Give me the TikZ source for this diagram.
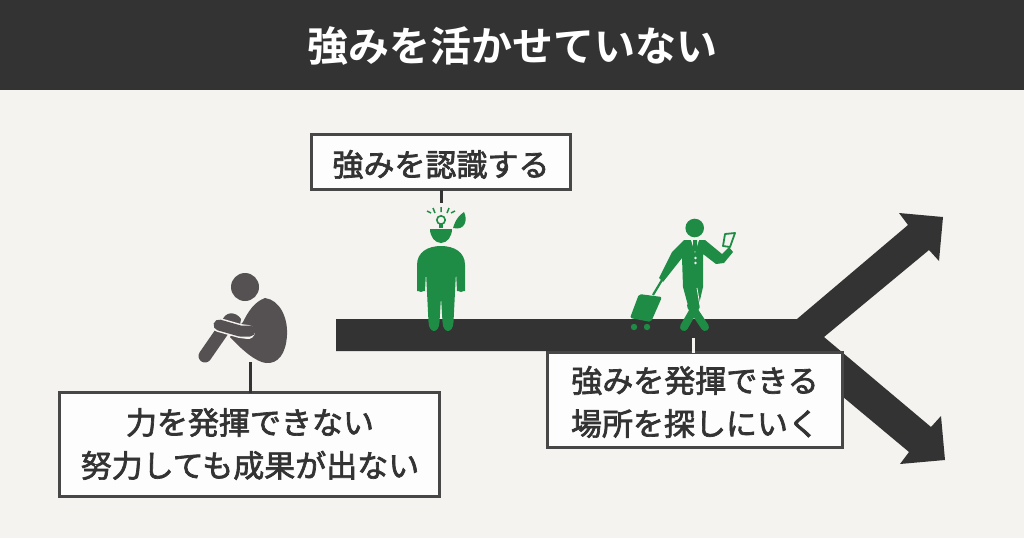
\documentclass[tikz,border=0pt]{standalone}
\usepackage{fontspec}
\setmainfont{Noto Sans CJK JP}[BoldFont={Noto Sans CJK JP Bold}]
\usetikzlibrary{positioning}
\definecolor{inkdark}{HTML}{333333}
\definecolor{paper}{HTML}{F4F3EF}
\definecolor{boxfill}{HTML}{FDFDFD}
\definecolor{figgreen}{HTML}{1F8C45}
\definecolor{figgray}{HTML}{555152}
\tikzset{
	every node/.style={inner sep=0pt, outer sep=0pt},
	textbox/.style={draw=inkdark!90!white, line width=2.5pt, fill=boxfill},
	boxtext/.style={text=inkdark, align=center, font=\fontsize{31}{43}\selectfont\addfontfeatures{FakeBold=2.2}},
	stem/.style={draw=inkdark, line width=3pt},
	limb/.style={line width=#1, line cap=round, line join=round},
}

\begin{document}
\begin{tikzpicture}[x=1pt, y=-1pt]
	\useasboundingbox (0,0) rectangle (1024,538);
	\fill[paper] (0,0) rectangle (1024,538);
	\fill[inkdark] (0,0) rectangle (1024,90);
	\node[text=white, font=\fontsize{41}{44}\selectfont\bfseries] (title) at (512,46) {強みを活かせていない};

	% road with the two arrows
	\fill[inkdark] (336,319) -- (797,319) -- (908,225) -- (899,213) -- (943,217) -- (939,261) -- (929,250) -- (824,337)
		-- (931,427) -- (941,416) -- (945,460) -- (900,464) -- (909,452) -- (788,351) -- (336,351) -- cycle;

	% person with the open head
	\begin{scope}[figgreen]
		\fill (430,229) -- (452,229) arc (0:180:11 and 14) -- cycle;
		\fill (453,228) .. controls (456,218) and (460,215) .. (464,212) .. controls (468,220) and (465,231) .. cycle;
		\draw[line width=1.6pt] (441,220) circle (4.2);
		\fill (439,223) rectangle (443,228);
		\draw[line width=1.5pt] (441,207) -- (441,212) (433,208) -- (435,213) (449,208) -- (447,213) (431,213) -- (427,211) (451,213) -- (455,211);
		\fill (425,291) -- (417,291) -- (417,265) .. controls (417,252) and (428,246) .. (441,246)
			.. controls (454,246) and (465,252) .. (465,265) -- (465,291) -- (457,291) -- (456,272) -- (453.5,322)
			.. controls (453,334) and (443,334) .. (442.5,322) -- (441,297) -- (439.5,322)
			.. controls (439,334) and (429,334) .. (428.5,322) -- (426,272) -- cycle;
		\draw[limb=8pt] (421,266) -- (421,288) (461,266) -- (461,288);
	\end{scope}

	% traveller with the suitcase
	\begin{scope}[figgreen]
		\fill (694.7,228) circle (9.3);
		\fill[rounded corners=2pt] (639,294) -- (662,297) -- (651,322) -- (630,318) -- cycle;
		\fill (634,327) circle (3.2) (647,327) circle (3.2);
		\draw[line width=2.2pt] (662,280) -- (653,295);
		\fill (684,240) -- (705,240) -- (722,254) -- (729,247) -- (733,252) -- (724,263) -- (716,264)
			-- (703,254) -- (703,287) -- (697,313) -- (690,313) -- (683,287) -- (682,258) -- (663,282)
			-- (659,278) -- (672,252) -- cycle;
		\draw[limb=8pt] (691,306) -- (705,327);
		\draw[limb=8pt] (696,306) -- (684,327);
		\draw[paper, line width=.8pt] (697,288) -- (700,306);
		\draw[line width=1.8pt, fill=paper, line join=round] (725,234) -- (735,233) -- (730,247) -- (723,246) -- cycle;
		\fill[paper] (691,240) -- (699,240) -- (695,253) -- cycle;
		\fill (693,240) -- (697,240) -- (697,249) -- (695,252) -- (693,249) -- cycle;
		\fill[paper] (695.5,258) circle (1.4) (695.5,263) circle (1.4);
	\end{scope}

	% seated person
	\begin{scope}[figgray]
		\fill (245,287) circle (14);
		\fill (265,298) .. controls (280,300) and (288,318) .. (287,335) .. controls (286,354) and (278,364) .. (266,363)
			.. controls (256,362) and (242,350) .. (230,337) -- (243,322) .. controls (248,312) and (254,302) .. (265,298) -- cycle;
		\draw[limb=13pt] (223,330) -- (205,356);
		\fill (222,322) .. controls (224,311) and (236,311) .. (241,319) -- (240,325) -- cycle;
		\draw[paper, limb=14pt] (219,325) -- (240,331) -- (248,332);
		\draw[limb=11pt] (219,325) -- (240,331) -- (250,331);
	\end{scope}

	% text boxes
	\node[textbox, minimum width=259pt, minimum height=55pt] (boxcheck) at (441,162) {};
	\node[textbox, minimum width=380pt, minimum height=104pt] (boxstuck) at (249.5,444.5) {};
	\node[textbox, minimum width=295pt, minimum height=95pt] (boxsearch) at (695,400) {};
	\node[boxtext] (textcheck) at (441,164.5) {強みを認識する};
	\node[boxtext] (textstuck) at (250,444) {力を発揮できない\\努力しても成果が出ない};
	\node[boxtext] (textsearch) at (695,402) {強みを発揮できる\\場所を探しにいく};

	\coordinate (headtop) at (441,203);
	\coordinate (knees) at (250,362);
	\coordinate (feet) at (693,338);
	\draw[stem] (boxcheck) -- (headtop);
	\draw[stem] (boxstuck.north -| knees) -- (knees);
	\draw[draw=paper, line width=3pt] (boxsearch.north -| feet) -- (feet);
\end{tikzpicture}
\end{document}
